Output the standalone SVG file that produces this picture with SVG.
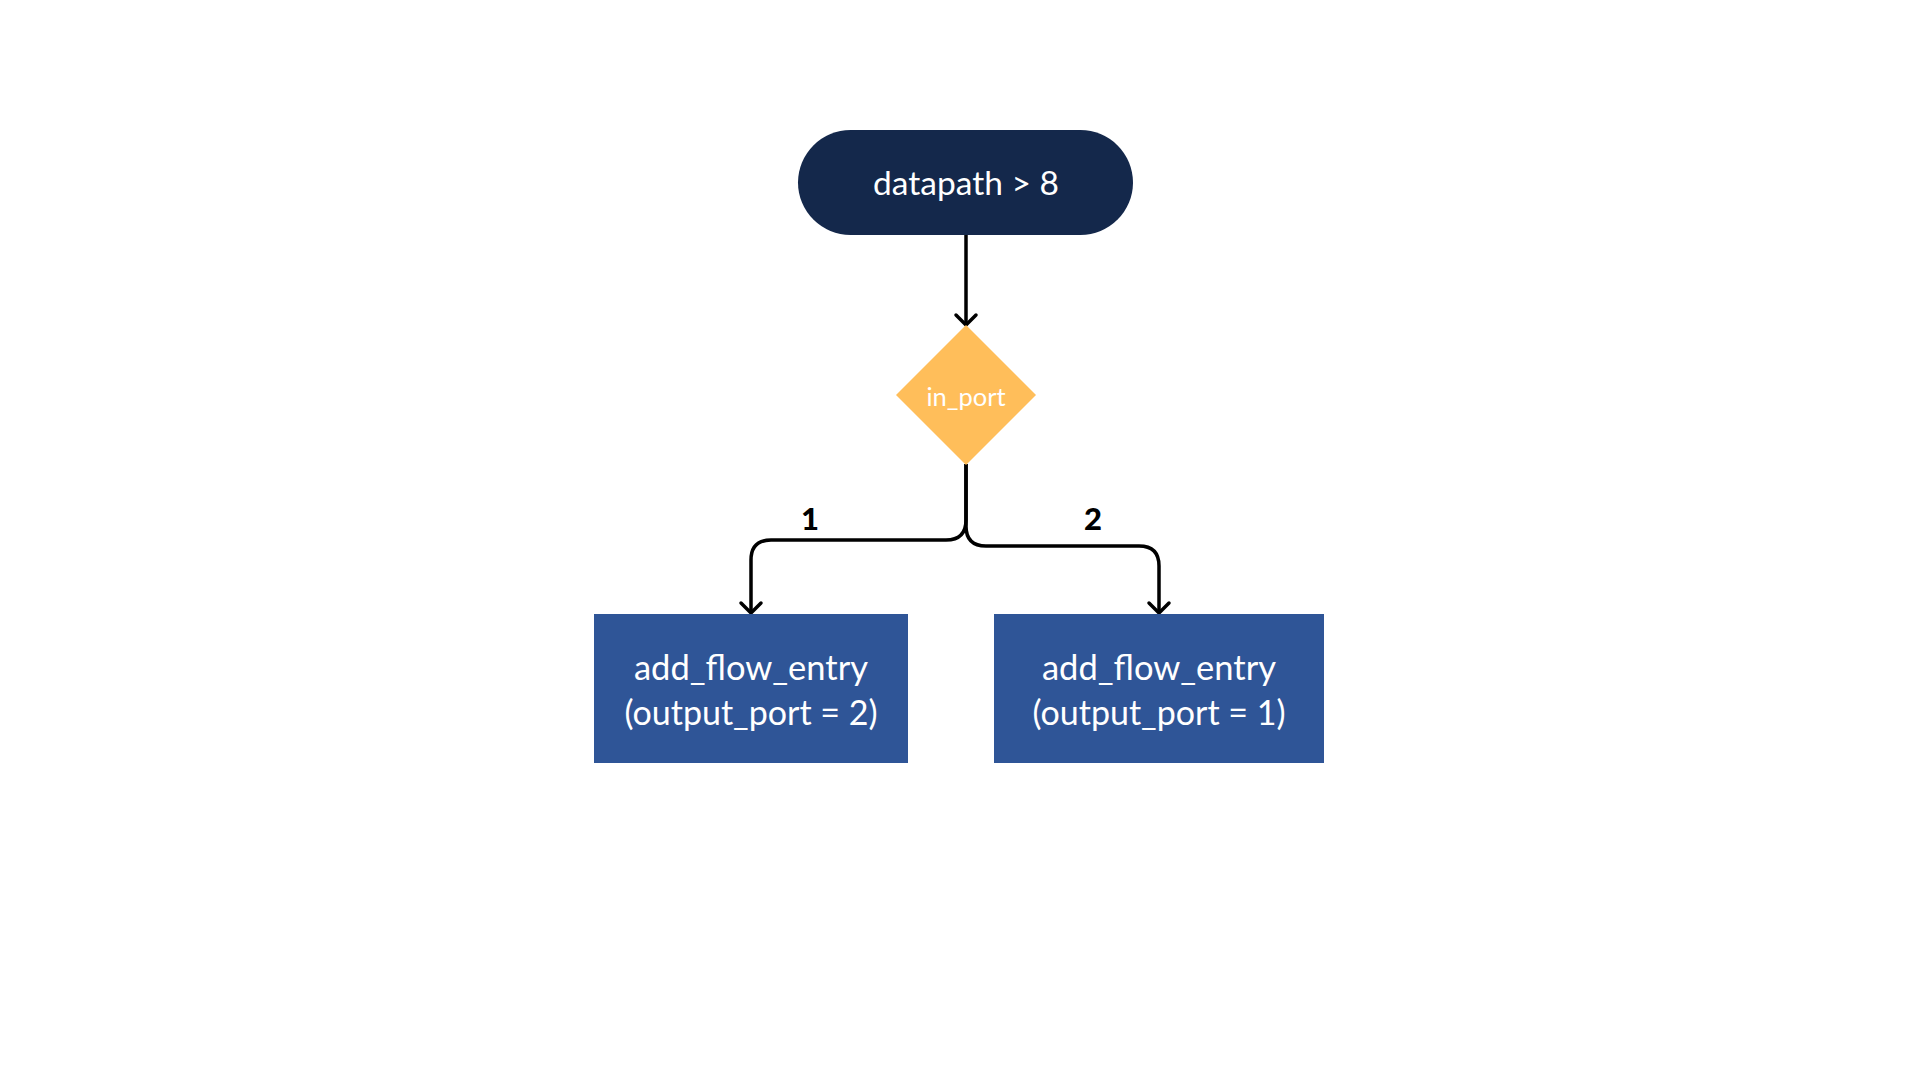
<svg xmlns="http://www.w3.org/2000/svg" width="1920" height="1080" viewBox="0 0 1920 1080">
<style>
.lbl{font-family:Lato,"Noto Sans","Liberation Sans",sans-serif;fill:#ffffff;text-anchor:middle}
.edge{fill:none;stroke:#000;stroke-width:3.5}
.head{fill:none;stroke:#000;stroke-width:3.5;stroke-linecap:round;stroke-linejoin:round}
.elbl{font-family:Lato,"Liberation Sans",sans-serif;font-weight:900;font-size:31px;fill:#000;text-anchor:middle}
</style>
<rect width="1920" height="1080" fill="#ffffff"/>
<g id="connectors">
<path class="edge" d="M966,235 L966,324"/>
<path class="edge" d="M966,464 L966,520 Q966,540 946,540 L771,540 Q751,540 751,560 L751,612"/>
<path class="edge" d="M966,464 L966,526 Q966,546 986,546 L1139,546 Q1159,546 1159,566 L1159,612"/>
<path class="head" d="M741,603 L751,613 L761,603"/>
<path class="head" d="M1149,603 L1159,613 L1169,603"/>
<path class="head" d="M956,315 L966,325 L976,315"/>
<text class="elbl" x="810" y="530">1</text>
<text class="elbl" x="1093" y="530">2</text>
</g>
<g id="start">
<rect x="798" y="130" width="335" height="105" rx="52.5" fill="#14284b"/>
<text class="lbl" x="966" y="195" font-size="33.5">datapath &gt; 8</text>
</g>
<g id="decision">
<polygon points="966,325 1036,395 966,465 896,395" fill="#ffbe5a"/>
<text class="lbl" x="966" y="406" font-size="25.5">in_port</text>
</g>
<g id="left">
<rect x="594" y="614" width="314" height="149" fill="#2f5597"/>
<text class="lbl" x="751" y="680" font-size="34.5">add_flow_entry</text>
<text class="lbl" x="751" y="725" font-size="34">(output_port = 2)</text>
</g>
<g id="right">
<rect x="994" y="614" width="330" height="149" fill="#2f5597"/>
<text class="lbl" x="1159" y="680" font-size="34.5">add_flow_entry</text>
<text class="lbl" x="1159" y="725" font-size="34">(output_port = 1)</text>
</g>
</svg>
